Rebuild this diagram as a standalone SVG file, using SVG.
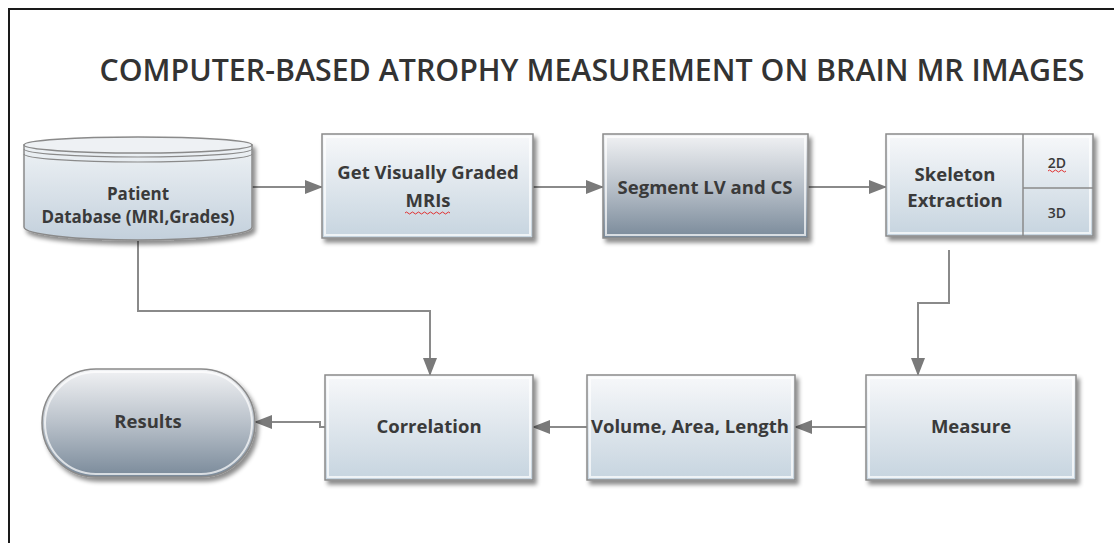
<svg xmlns="http://www.w3.org/2000/svg" width="1114" height="543" viewBox="0 0 1114 543">
<defs>
<linearGradient id="light" x1="0" y1="0" x2="0" y2="1">
<stop offset="0" stop-color="#f7f8fa"/><stop offset="1" stop-color="#c6d4df"/>
</linearGradient>
<linearGradient id="dark" x1="0" y1="0" x2="0" y2="1">
<stop offset="0" stop-color="#f1f2f4"/><stop offset="0.5" stop-color="#b9c1ca"/><stop offset="1" stop-color="#7a8a9a"/>
</linearGradient>
<linearGradient id="cyl" x1="0" y1="0" x2="0" y2="1">
<stop offset="0" stop-color="#eef2f5"/><stop offset="1" stop-color="#c3d0dc"/>
</linearGradient>
<filter id="sh" x="-10%" y="-10%" width="125%" height="130%">
<feDropShadow dx="3" dy="4" stdDeviation="2" flood-color="#000" flood-opacity="0.45"/>
</filter>
<marker id="ah" viewBox="0 0 18 14" refX="17" refY="7" markerWidth="18" markerHeight="14" markerUnits="userSpaceOnUse" orient="auto">
<path d="M0,0 L18,7 L0,14 Z" fill="#7a7a7a"/>
</marker>
</defs>
<style>
.box{stroke:#8a8a8a;stroke-width:1.5}
.inner{fill:none;stroke:#ffffff;stroke-opacity:0.7;stroke-width:2}
.t{font-family:"Open Sans","Liberation Sans",sans-serif;font-weight:700;fill:#3a3a3a;text-anchor:middle}
.conn{fill:none;stroke:#8a8a8a;stroke-width:2}
.sq{fill:none;stroke:#e03030;stroke-width:1}
</style>
<rect width="1114" height="543" fill="#ffffff"/>
<path d="M9,543 V9 H1114" fill="none" stroke="#1a1a1a" stroke-width="2"/>
<text id="title" x="592" y="81" class="t" style="font-size:31px;font-weight:600;fill:#333" textLength="985" lengthAdjust="spacingAndGlyphs">COMPUTER-BASED ATROPHY MEASUREMENT ON BRAIN MR IMAGES</text>

<g id="connectors">
<line class="conn" x1="252" y1="187" x2="322" y2="187" marker-end="url(#ah)"/>
<line class="conn" x1="533" y1="187" x2="603" y2="187" marker-end="url(#ah)"/>
<line class="conn" x1="808" y1="187" x2="886" y2="187" marker-end="url(#ah)"/>
<polyline class="conn" points="949,250 949,303 918,303 918,375" marker-end="url(#ah)"/>
<polyline class="conn" points="138,241 138,311 430,311 430,375" marker-end="url(#ah)"/>
<line class="conn" x1="866" y1="427" x2="795" y2="427" marker-end="url(#ah)"/>
<line class="conn" x1="587" y1="427" x2="533" y2="427" marker-end="url(#ah)"/>
<polyline class="conn" points="325,427 320,427 320,422 255,422" marker-end="url(#ah)"/>
</g>

<g id="patient-db">
<g filter="url(#sh)">
<path d="M24,145 V227 A114,13 0 0 0 252,227 V145 Z" fill="url(#cyl)" class="box"/>
<ellipse cx="138" cy="145" rx="114" ry="8" fill="#eef1f4" class="box"/>
</g>
<path d="M24,149 A114,8 0 0 0 252,149" fill="none" stroke="#8a8a8a" stroke-width="1.2"/>
<path d="M24,154 A114,8 0 0 0 252,154" fill="none" stroke="#8a8a8a" stroke-width="1.2"/>
<text x="138" y="200" class="t" style="font-size:17px">Patient</text>
<text x="138" y="223" class="t" style="font-size:17px">Database (MRI,Grades)</text>
</g>

<g id="get-mris">
<rect x="322" y="134" width="211" height="104" fill="url(#light)" class="box" filter="url(#sh)"/>
<rect x="325" y="137" width="205" height="98" class="inner"/>
<text x="428" y="179" class="t" style="font-size:18.5px">Get Visually Graded</text>
<text x="428" y="207" class="t" style="font-size:18.5px">MRIs</text>
<path class="sq" d="M405,213 q1.5,-2 3,0 t3,0 t3,0 t3,0 t3,0 t3,0 t3,0 t3,0 t3,0 t3,0 t3,0 t3,0 t3,0 t3,0 t3,0"/>
</g>

<g id="segment">
<rect x="603" y="134" width="205" height="104" fill="url(#dark)" class="box" filter="url(#sh)"/>
<rect x="606" y="137" width="199" height="98" class="inner"/>
<text x="705" y="194" class="t" style="font-size:18.5px">Segment LV and CS</text>
</g>

<g id="skeleton">
<rect x="886" y="134" width="207" height="102" fill="url(#light)" class="box" filter="url(#sh)"/>
<rect x="889" y="137" width="201" height="96" class="inner"/>
<line x1="1023" y1="134" x2="1023" y2="236" stroke="#8a8a8a" stroke-width="1.5"/>
<line x1="1023" y1="188" x2="1093" y2="188" stroke="#8a8a8a" stroke-width="1.5"/>
<text x="955" y="181" class="t" style="font-size:18.5px">Skeleton</text>
<text x="955" y="207" class="t" style="font-size:18.5px">Extraction</text>
<text x="1057" y="168" class="t" style="font-size:14px;font-weight:600">2D</text>
<text x="1057" y="218" class="t" style="font-size:14px;font-weight:600">3D</text>
<path class="sq" d="M1048,171 q1.5,-2 3,0 t3,0 t3,0 t3,0 t3,0 t3,0"/>
</g>

<g id="measure">
<rect x="866" y="375" width="210" height="105" fill="url(#light)" class="box" filter="url(#sh)"/>
<rect x="869" y="378" width="204" height="99" class="inner"/>
<text x="971" y="433" class="t" style="font-size:18.5px">Measure</text>
</g>

<g id="volume">
<rect x="587" y="375" width="208" height="105" fill="url(#light)" class="box" filter="url(#sh)"/>
<rect x="590" y="378" width="202" height="99" class="inner"/>
<text x="690" y="433" class="t" style="font-size:18.5px">Volume, Area, Length</text>
</g>

<g id="correlation">
<rect x="325" y="375" width="208" height="105" fill="url(#light)" class="box" filter="url(#sh)"/>
<rect x="328" y="378" width="202" height="99" class="inner"/>
<text x="429" y="433" class="t" style="font-size:18.5px">Correlation</text>
</g>

<g id="results">
<rect x="42" y="369" width="213" height="108" rx="54" ry="54" fill="url(#dark)" class="box" filter="url(#sh)"/>
<rect x="45" y="372" width="207" height="102" rx="51" ry="51" class="inner"/>
<text x="148" y="428" class="t" style="font-size:18.5px">Results</text>
</g>
</svg>
